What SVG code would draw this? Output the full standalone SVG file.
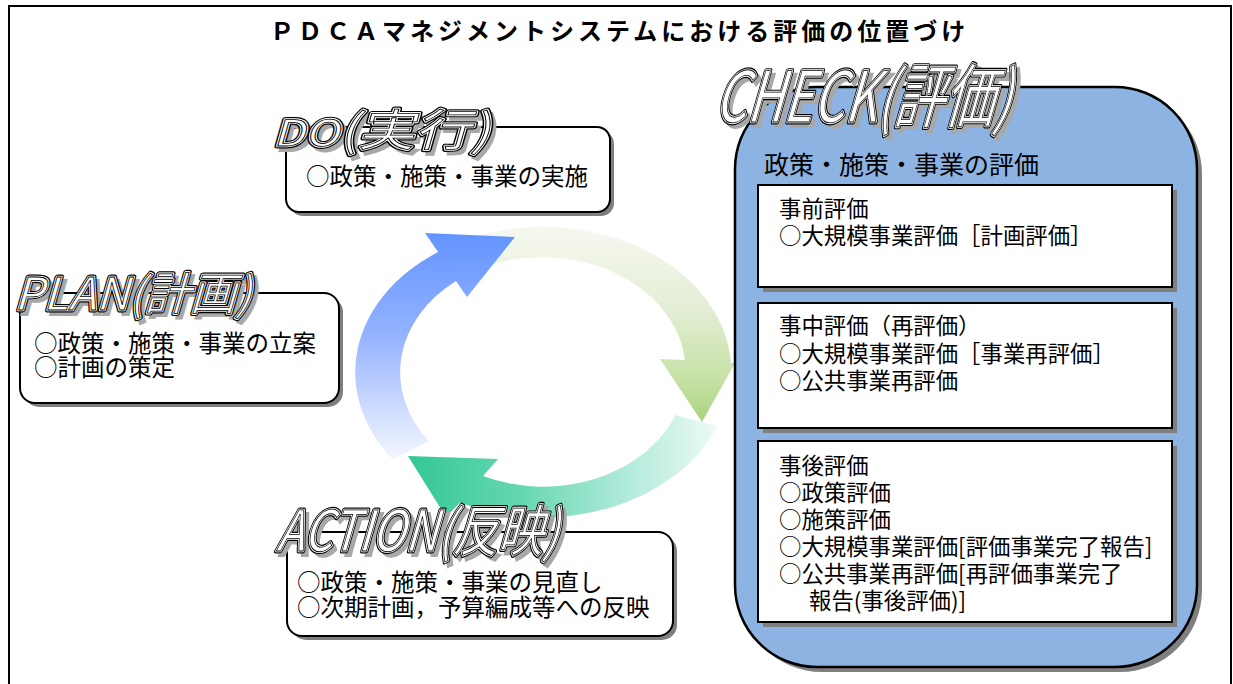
<svg xmlns="http://www.w3.org/2000/svg" width="1233" height="684" viewBox="0 0 1233 684">
<defs>
<linearGradient id="gBlue" gradientUnits="userSpaceOnUse" x1="0" y1="235" x2="0" y2="462">
<stop offset="0" stop-color="#6495ff"/>
<stop offset="0.45" stop-color="#95b3ff"/>
<stop offset="0.8" stop-color="#d4e0ff"/>
<stop offset="1" stop-color="#f5f7ff"/>
</linearGradient>
<linearGradient id="gGreen" gradientUnits="userSpaceOnUse" x1="0" y1="228" x2="0" y2="425">
<stop offset="0" stop-color="#f6f8f0"/>
<stop offset="0.4" stop-color="#e4eed6"/>
<stop offset="0.75" stop-color="#c8e2a8"/>
<stop offset="1" stop-color="#a6d27c"/>
</linearGradient>
<linearGradient id="gTeal" gradientUnits="userSpaceOnUse" x1="410" y1="0" x2="725" y2="0">
<stop offset="0" stop-color="#33c896"/>
<stop offset="0.35" stop-color="#66d6b2"/>
<stop offset="0.7" stop-color="#b4ebdc"/>
<stop offset="1" stop-color="#f2fbf8"/>
</linearGradient>
</defs>
<style>
.t{font-family:"Noto Sans CJK JP","Noto Sans CJK SC",sans-serif;fill:#000}
.title{font-size:24px;font-weight:bold;letter-spacing:4px}
.body{font-size:23.5px}
.cb{font-size:22.4px}
.hdr{font-size:25px}
.lbl{font-family:"Noto Sans CJK JP","Noto Sans CJK SC",sans-serif;font-weight:normal}
.box{fill:#fff;stroke:#000;stroke-width:2}
.shadow{fill:#7f7f7f}
</style>
<rect x="0" y="0" width="1233" height="684" fill="#fff"/>
<rect x="9" y="6" width="1222" height="700" fill="none" stroke="#000" stroke-width="2"/>

<g id="title">
<text class="t title" x="270" y="40">ＰＤＣＡマネジメントシステムにおける評価の位置づけ</text>
</g>

<g id="connectors">
<path d="M 717.3 426.3 A 188 145 0 0 1 460 502.5 L 446 517 L 408 456 L 498 459 L 483 476 A 143 115 0 0 0 675.6 415.1 Z" fill="url(#gTeal)"/>
<path d="M 449 246.4 A 188 145 0 0 1 731 363 L 735 363 L 702 422 L 660 359 L 685 360 A 143 115 0 0 0 471.5 272.4 Z" fill="url(#gGreen)"/>
<path d="M 392.9 459.3 A 188 145 0 0 1 438 252 L 425 233 L 515 237 L 467 297 L 456 281 A 143 115 0 0 0 428.8 441.2 Z" fill="url(#gBlue)"/>
</g>

<g id="node-do">
<rect class="shadow" x="290" y="131" width="324" height="85" rx="13"/>
<rect class="box" x="286" y="127" width="324" height="85" rx="13"/>
<text class="t body" x="306" y="184.5">○政策・施策・事業の実施</text>
<g transform="translate(273,146) skewX(-16)" class="lbl" font-size="44">
<text x="5" y="4" textLength="217" lengthAdjust="spacingAndGlyphs" fill="#a8a8a8" stroke="#a8a8a8" stroke-width="4"><tspan font-size="36">DO</tspan>(実行)</text>
<text x="0" y="0" textLength="217" lengthAdjust="spacingAndGlyphs" fill="none" stroke="#000" stroke-width="5" stroke-linejoin="round"><tspan font-size="36">DO</tspan>(実行)</text>
<text x="0" y="0" textLength="217" lengthAdjust="spacingAndGlyphs" fill="#fff" stroke="#fff" stroke-width="2.6" stroke-linejoin="round"><tspan font-size="36">DO</tspan>(実行)</text>
<text x="0" y="0" textLength="217" lengthAdjust="spacingAndGlyphs" fill="#fff" stroke="#000" stroke-width="0.8"><tspan font-size="36">DO</tspan>(実行)</text>
</g>
</g>

<g id="node-plan">
<rect class="shadow" x="24" y="297" width="319" height="110" rx="15"/>
<rect class="box" x="20" y="293" width="319" height="110" rx="15"/>
<text class="t body" x="34" y="351.5">○政策・施策・事業の立案</text>
<text class="t body" x="34" y="375.5">○計画の策定</text>
<g transform="translate(14,310) skewX(-16)" class="lbl" font-size="45">
<text x="5" y="4" textLength="237" lengthAdjust="spacingAndGlyphs" fill="#a8a8a8" stroke="#a8a8a8" stroke-width="4">PLAN(計画)</text>
<text x="0" y="0" textLength="237" lengthAdjust="spacingAndGlyphs" fill="none" stroke="#000" stroke-width="5" stroke-linejoin="round">PLAN(計画)</text>
<text x="0" y="0" textLength="237" lengthAdjust="spacingAndGlyphs" fill="#fff" stroke="#fff" stroke-width="2.6" stroke-linejoin="round">PLAN(計画)</text>
<text x="0" y="0" textLength="237" lengthAdjust="spacingAndGlyphs" fill="#fff" stroke="#000" stroke-width="0.8">PLAN(計画)</text>
</g>
</g>

<g id="node-action">
<rect class="shadow" x="291" y="536" width="386" height="104" rx="15"/>
<rect class="box" x="287" y="532" width="386" height="104" rx="15"/>
<text class="t body" x="297" y="590.5">○政策・施策・事業の見直し</text>
<text class="t body" x="297" y="615.5">○次期計画，予算編成等への反映</text>
<g transform="translate(276,551) skewX(-16)" class="lbl" font-size="56">
<text x="5" y="4" textLength="282" lengthAdjust="spacingAndGlyphs" fill="#a8a8a8" stroke="#a8a8a8" stroke-width="4">ACTION(反映)</text>
<text x="0" y="0" textLength="282" lengthAdjust="spacingAndGlyphs" fill="none" stroke="#000" stroke-width="5" stroke-linejoin="round">ACTION(反映)</text>
<text x="0" y="0" textLength="282" lengthAdjust="spacingAndGlyphs" fill="#fff" stroke="#fff" stroke-width="2.6" stroke-linejoin="round">ACTION(反映)</text>
<text x="0" y="0" textLength="282" lengthAdjust="spacingAndGlyphs" fill="#fff" stroke="#000" stroke-width="0.8">ACTION(反映)</text>
</g>
</g>

<g id="node-check">
<rect class="shadow" x="740" y="92" width="462" height="580" rx="82"/>
<rect x="735" y="87" width="462" height="580" rx="82" fill="#8db3e2" stroke="#000" stroke-width="2.5"/>
<text class="t hdr" x="764" y="173.5">政策・施策・事業の評価</text>

<g id="check-pre">
<rect class="shadow" x="763" y="190" width="414" height="102"/>
<rect class="box" x="758" y="185" width="414" height="102"/>
<text class="t cb" x="779" y="216.5">事前評価</text>
<text class="t cb" x="779" y="243.5">○大規模事業評価［計画評価］</text>
</g>

<g id="check-mid">
<rect class="shadow" x="763" y="308" width="414" height="125"/>
<rect class="box" x="758" y="303" width="414" height="125"/>
<text class="t cb" x="779" y="333.5">事中評価（再評価）</text>
<text class="t cb" x="779" y="361.5">○大規模事業評価［事業再評価］</text>
<text class="t cb" x="779" y="388.5">○公共事業再評価</text>
</g>

<g id="check-post">
<rect class="shadow" x="763" y="446" width="414" height="181"/>
<rect class="box" x="758" y="441" width="414" height="181"/>
<text class="t cb" x="779" y="473.5">事後評価</text>
<text class="t cb" x="779" y="500.5">○政策評価</text>
<text class="t cb" x="779" y="527.5">○施策評価</text>
<text class="t cb" x="779" y="554.5">○大規模事業評価[評価事業完了報告]</text>
<text class="t cb" x="779" y="581.5">○公共事業再評価[再評価事業完了</text>
<text class="t cb" x="809" y="608.5">報告(事後評価)]</text>
</g>

<g id="check-label" transform="translate(714,122) skewX(-16)" class="lbl" font-size="70">
<text x="5" y="4" textLength="296" lengthAdjust="spacingAndGlyphs" fill="#a8a8a8" stroke="#a8a8a8" stroke-width="4">CHECK(評価)</text>
<text x="0" y="0" textLength="296" lengthAdjust="spacingAndGlyphs" fill="none" stroke="#000" stroke-width="5" stroke-linejoin="round">CHECK(評価)</text>
<text x="0" y="0" textLength="296" lengthAdjust="spacingAndGlyphs" fill="#fff" stroke="#fff" stroke-width="2.6" stroke-linejoin="round">CHECK(評価)</text>
<text x="0" y="0" textLength="296" lengthAdjust="spacingAndGlyphs" fill="#fff" stroke="#000" stroke-width="0.8">CHECK(評価)</text>
</g>
</g>
</svg>
